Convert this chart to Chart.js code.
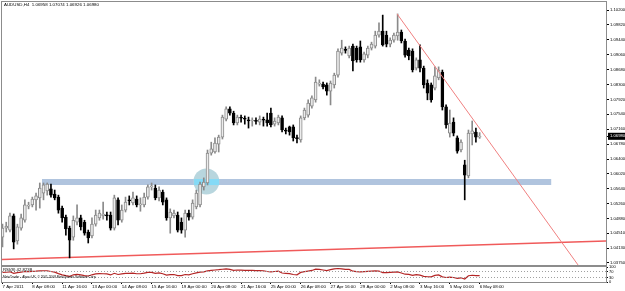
<!DOCTYPE html>
<html>
<head>
<meta charset="utf-8">
<script src="https://cdn.jsdelivr.net/npm/chart.js@4.4.0/dist/chart.umd.min.js"></script>
<style>
  html, body { margin: 0; padding: 0; background: #fff; }
  #wrap { position: relative; width: 625px; height: 291px; overflow: hidden; }
  #main { position: absolute; left: 0; top: 0; }
  #rsi { position: absolute; left: 0; top: 265px; }
</style>
</head>
<body>
<div id="wrap">
  <canvas id="main" width="625" height="266"></canvas>
  <canvas id="rsi" width="625" height="26"></canvas>
</div>
<script>
// AUDUSD H4, bar 0 = 7 Apr 2011 00:00, last bar = 6 May 08:00
const opens = [
  1.0441, 1.0464, 1.0459, 1.0495, 1.0431, 1.0464, 1.0484, 1.0520, 1.0523, 1.0536,
  1.0541, 1.0553, 1.0559, 1.0564, 1.0551, 1.0543, 1.0515, 1.0492, 1.0464, 1.0441,
  1.0479, 1.0490, 1.0479, 1.0454, 1.0444, 1.0474, 1.0490, 1.0495, 1.0497, 1.0497,
  1.0464, 1.0536, 1.0484, 1.0510, 1.0536, 1.0528, 1.0538, 1.0523, 1.0523, 1.0543,
  1.0569, 1.0566, 1.0541, 1.0556, 1.0536, 1.0490, 1.0495, 1.0497, 1.0479, 1.0459,
  1.0502, 1.0492, 1.0518, 1.0523, 1.0569, 1.0579, 1.0655, 1.0658, 1.0678, 1.0696,
  1.0742, 1.0768, 1.0757, 1.0732, 1.0745, 1.0744, 1.0740, 1.0737, 1.0738, 1.0734,
  1.0741, 1.0740, 1.0757, 1.0729, 1.0732, 1.0745, 1.0714, 1.0722, 1.0722, 1.0694,
  1.0689, 1.0745, 1.0752, 1.0775, 1.0791, 1.0831, 1.0831, 1.0829, 1.0813, 1.0829,
  1.0854, 1.0910, 1.0918, 1.0903, 1.0928, 1.0923, 1.0926, 1.0893, 1.0905, 1.0923,
  1.0928, 1.0956, 1.0966, 1.0956, 1.0933, 1.0943, 1.0954, 1.0964, 1.0941, 1.0918,
  1.0915, 1.0872, 1.0893, 1.0872, 1.0834, 1.0829, 1.0821, 1.0847, 1.0862, 1.0773,
  1.0706, 1.0734, 1.0694, 1.0663, 1.0625, 1.0597, 1.0704, 1.0709, 1.06958
];
const highs = [
  1.0474, 1.0479, 1.0502, 1.0500, 1.0474, 1.0500, 1.0536, 1.0530, 1.0543, 1.0553,
  1.0579, 1.0579, 1.0579, 1.0576, 1.0561, 1.0548, 1.0520, 1.0497, 1.0469, 1.0495,
  1.0523, 1.0497, 1.0484, 1.0459, 1.0490, 1.0510, 1.0510, 1.0530, 1.0505, 1.0505,
  1.0548, 1.0541, 1.0523, 1.0543, 1.0546, 1.0556, 1.0546, 1.0541, 1.0553, 1.0574,
  1.0579, 1.0574, 1.0569, 1.0561, 1.0541, 1.0513, 1.0510, 1.0505, 1.0490, 1.0510,
  1.0510, 1.0536, 1.0561, 1.0581, 1.0592, 1.0663, 1.0683, 1.0694, 1.0701, 1.0752,
  1.0773, 1.0773, 1.0762, 1.0752, 1.0752, 1.0750, 1.0747, 1.0745, 1.0745, 1.0750,
  1.0747, 1.0757, 1.0770, 1.0745, 1.0752, 1.0750, 1.0719, 1.0724, 1.0727, 1.0701,
  1.0750, 1.0770, 1.0791, 1.0801, 1.0849, 1.0842, 1.0836, 1.0834, 1.0839, 1.0859,
  1.0921, 1.0943, 1.0926, 1.0928, 1.0933, 1.0928, 1.0941, 1.0913, 1.0928, 1.0938,
  1.0966, 1.0987, 1.1007, 1.0966, 1.0949, 1.0961, 1.1010, 1.0969, 1.0946, 1.0923,
  1.0921, 1.0898, 1.0931, 1.0877, 1.0842, 1.0834, 1.0875, 1.0875, 1.0867, 1.0778,
  1.0765, 1.0745, 1.0699, 1.0689, 1.0637, 1.0714, 1.0737, 1.0719, 1.07074
];
const lows = [
  1.0416, 1.0454, 1.0454, 1.0411, 1.0423, 1.0459, 1.0479, 1.0513, 1.0518, 1.0510,
  1.0515, 1.0536, 1.0548, 1.0543, 1.0536, 1.0502, 1.0479, 1.0446, 1.0388, 1.0433,
  1.0472, 1.0459, 1.0446, 1.0426, 1.0439, 1.0469, 1.0484, 1.0487, 1.0484, 1.0459,
  1.0459, 1.0472, 1.0479, 1.0505, 1.0523, 1.0523, 1.0518, 1.0507, 1.0518, 1.0538,
  1.0561, 1.0536, 1.0533, 1.0523, 1.0484, 1.0451, 1.0490, 1.0454, 1.0451, 1.0441,
  1.0484, 1.0487, 1.0513, 1.0518, 1.0561, 1.0574, 1.0650, 1.0655, 1.0658, 1.0691,
  1.0737, 1.0752, 1.0727, 1.0727, 1.0734, 1.0729, 1.0719, 1.0724, 1.0729, 1.0727,
  1.0724, 1.0724, 1.0722, 1.0724, 1.0727, 1.0709, 1.0704, 1.0701, 1.0686, 1.0681,
  1.0683, 1.0740, 1.0747, 1.0770, 1.0785, 1.0826, 1.0819, 1.0803, 1.0778, 1.0821,
  1.0849, 1.0905, 1.0910, 1.0898, 1.0865, 1.0887, 1.0887, 1.0887, 1.0898, 1.0918,
  1.0923, 1.0951, 1.0928, 1.0926, 1.0926, 1.0938, 1.0943, 1.0936, 1.0900, 1.0893,
  1.0862, 1.0867, 1.0862, 1.0821, 1.0791, 1.0785, 1.0816, 1.0842, 1.0765, 1.0719,
  1.0696, 1.0699, 1.0655, 1.0658, 1.0536, 1.0592, 1.0676, 1.0683, 1.06926
];
const closes = [
  1.0464, 1.0469, 1.0495, 1.0428, 1.0467, 1.0490, 1.0523, 1.0522, 1.0538, 1.0546,
  1.0566, 1.0574, 1.0576, 1.0548, 1.0541, 1.0510, 1.0490, 1.0462, 1.0433, 1.0484,
  1.0490, 1.0467, 1.0451, 1.0439, 1.0474, 1.0497, 1.0502, 1.0500, 1.0495, 1.0464,
  1.0541, 1.0484, 1.0510, 1.0530, 1.0533, 1.0541, 1.0523, 1.0525, 1.0543, 1.0569,
  1.0571, 1.0541, 1.0561, 1.0530, 1.0490, 1.0505, 1.0502, 1.0459, 1.0459, 1.0502,
  1.0492, 1.0528, 1.0553, 1.0576, 1.0581, 1.0655, 1.0666, 1.0681, 1.0696, 1.0747,
  1.0768, 1.0757, 1.0732, 1.0747, 1.0744, 1.0742, 1.0737, 1.0739, 1.0736, 1.0742,
  1.0739, 1.0732, 1.0727, 1.0737, 1.0747, 1.0714, 1.0711, 1.0709, 1.0694, 1.0692,
  1.0745, 1.0765, 1.0783, 1.0796, 1.0836, 1.0834, 1.0824, 1.0813, 1.0834, 1.0854,
  1.0915, 1.0923, 1.0917, 1.0923, 1.0890, 1.0893, 1.0893, 1.0908, 1.0923, 1.0933,
  1.0956, 1.0966, 1.0931, 1.0933, 1.0943, 1.0956, 1.0964, 1.0941, 1.0905, 1.0903,
  1.0867, 1.0893, 1.0872, 1.0829, 1.0808, 1.0791, 1.0852, 1.0867, 1.0773, 1.0727,
  1.0732, 1.0706, 1.0660, 1.0683, 1.0599, 1.0706, 1.0712, 1.0696, 1.06980
];
const rsiValues = [
  64, 65, 68, 58, 63, 66, 70, 69, 71, 72,
  74, 75, 75, 70, 66, 56, 48, 42, 37, 48,
  51, 47, 43, 40, 48, 54, 56, 55, 54, 47,
  58, 50, 54, 57, 57, 59, 55, 55, 59, 64,
  64, 57, 61, 55, 46, 49, 50, 43, 43, 50,
  48, 55, 61, 66, 68, 74, 77, 80, 82, 85,
  87, 84, 78, 80, 79, 78, 77, 77, 76, 76,
  75, 70, 68, 70, 72, 60, 58, 56, 50, 48,
  64, 69, 73, 77, 86, 84, 80, 76, 82, 88,
  90, 88, 84, 84, 72, 69, 67, 69, 71, 73,
  74, 73, 63, 62, 64, 66, 67, 60, 52, 51,
  44, 49, 46, 38, 35, 34, 44, 47, 34, 30,
  33, 30, 24, 28, 20, 42, 45, 42, 42.82
];

const timeLabelBars = [0, 8, 16, 24, 32, 40, 48, 56, 64, 72, 80, 88, 96, 104, 112, 120, 128];
const timeLabels = ['7 Apr 2011', '8 Apr 08:00', '11 Apr 16:00', '13 Apr 00:00', '14 Apr 08:00',
  '15 Apr 16:00', '19 Apr 00:00', '20 Apr 08:00', '21 Apr 16:00', '25 Apr 00:00', '26 Apr 08:00',
  '27 Apr 16:00', '29 Apr 00:00', '2 May 08:00', '3 May 16:00', '5 May 00:00', '6 May 08:00'];
const priceTickLabels = ['1.10200', '1.09820', '1.09440', '1.09060', '1.08680', '1.08300',
  '1.07920', '1.07540', '1.07160', '1.06780', '1.06400', '1.06020', '1.05640', '1.05260',
  '1.04880', '1.04510', '1.04130', '1.03750'];
const currentPrice = 1.06980;
const currentPriceLabel = '1.06980';
const rsiTickValues = [100, 70, 30, 0];
const rsiTickLabels = ['100', '70', '30', '0'];
const rsiLevels = [70, 30];

// objects drawn on the chart, as (bar, price)
const supportLine = [{x: -0.2, y: 1.03838}, {x: 162, y: 1.04310}];
const resistanceLine = [{x: 105.85, y: 1.1010}, {x: 154.4, y: 1.0370}];
const zoneBand = [{x: 10.6, y: 1.05814}, {x: 147.2, y: 1.05814}];
const zoneBreak = [{x: 51.4, y: 1.05814}, {x: 58.1, y: 1.05814}];
const breakCircle = [{x: 54.7, y: 1.05827}];

const xMin = -0.134, xMax = 161.9;
const bars = opens.map((o, i) => i);
const bull = opens.map((o, i) => closes[i] >= o);

// window frame like the terminal draws
const frame = {
  id: 'frame',
  afterDraw(chart) {
    const a = chart.chartArea, ctx = chart.ctx;
    ctx.save();
    ctx.strokeStyle = '#8c8c8c';
    ctx.lineWidth = 1;
    ctx.strokeRect(a.left - 0.5, a.top - 0.5, a.right - a.left + 1, a.bottom - a.top + 1);
    ctx.restore();
  }
};

const overlayText = {
  id: 'overlayText',
  afterDraw(chart, args, opts) {
    const ctx = chart.ctx;
    ctx.save();
    ctx.fillStyle = '#000';
    ctx.textBaseline = 'top';
    (opts.items || []).forEach(t => {
      ctx.font = t.size + 'px "Liberation Sans", Arial, sans-serif';
      ctx.fillText(t.text, t.x, t.y);
    });
    ctx.restore();
  }
};

new Chart(document.getElementById('main'), {
  type: 'bar',
  data: {
    datasets: [
      { type: 'line', data: zoneBand, borderColor: '#b0c4de', borderWidth: 6, borderCapStyle: 'butt', pointRadius: 0, order: 10 },
      { type: 'bubble', data: breakCircle, radius: 13, backgroundColor: '#b8d6de', borderWidth: 0, order: 9 },
      { type: 'line', data: zoneBreak, borderColor: '#84daf6', borderWidth: 6, borderCapStyle: 'butt', pointRadius: 0, order: 8 },
      { type: 'line', data: supportLine, borderColor: '#f05a5a', borderWidth: 1.4, pointRadius: 0, clip: 0, order: 7 },
      {
        data: bars.map(i => ({x: i, y: [lows[i], highs[i]]})),
        backgroundColor: bull.map(b => b ? '#8a8a8a' : '#000'),
        barThickness: 1, grouped: false, order: 3
      },
      {
        data: bars.map(i => ({x: i, y: [opens[i], closes[i]]})),
        backgroundColor: bull.map(b => b ? '#ececec' : '#000'),
        borderColor: bull.map(b => b ? '#8a8a8a' : '#000'),
        borderWidth: 1, borderSkipped: false,
        barThickness: 3, minBarLength: 1, grouped: false, order: 2
      },
      { type: 'line', data: resistanceLine, borderColor: '#f08080', borderWidth: 1, pointRadius: 0, clip: 0, order: 1 }
    ]
  },
  options: {
    responsive: false,
    animation: false,
    events: [],
    layout: { autoPadding: false, padding: { top: 2, left: 2, right: 0, bottom: 1 } },
    plugins: {
      legend: { display: false },
      tooltip: { enabled: false },
      overlayText: { items: [{ text: 'AUDUSD,H4  1.06958 1.07074 1.06926 1.06980', x: 4, y: 3, size: 4.4 }] }
    },
    scales: {
      x: { type: 'linear', min: xMin, max: xMax, offset: false, display: false },
      y: {
        type: 'linear', position: 'right', min: 1.03699, max: 1.10404,
        afterBuildTicks: s => {
          s.ticks = priceTickLabels.map(t => ({value: parseFloat(t)})).concat([{value: currentPrice}]);
        },
        afterFit: s => { s.width = 19; s.paddingTop = 0; s.paddingBottom = 0; },
        ticks: {
          autoSkip: false,
          padding: 1,
          font: { family: 'Liberation Sans', size: 4.2 },
          color: ctx => ctx.index === priceTickLabels.length ? '#fff' : '#000',
          showLabelBackdrop: ctx => ctx.index === priceTickLabels.length,
          backdropColor: '#000',
          backdropPadding: { top: 1, bottom: 1, left: 2, right: 4 },
          callback: (v, i) => i < priceTickLabels.length ? priceTickLabels[i] : currentPriceLabel
        },
        grid: { drawOnChartArea: false, tickLength: 3, color: '#000' },
        border: { display: true, color: '#8c8c8c' }
      }
    }
  },
  plugins: [frame, overlayText]
});

new Chart(document.getElementById('rsi'), {
  type: 'line',
  data: {
    datasets: [
      { data: [{x: xMin, y: rsiLevels[0]}, {x: xMax, y: rsiLevels[0]}], borderColor: '#a0a0a0', borderWidth: 1, borderDash: [1, 2], pointRadius: 0 },
      { data: [{x: xMin, y: rsiLevels[1]}, {x: xMax, y: rsiLevels[1]}], borderColor: '#a0a0a0', borderWidth: 1, borderDash: [1, 2], pointRadius: 0 },
      { data: rsiValues.map((v, i) => ({x: i, y: v})), borderColor: '#b42626', borderWidth: 1.2, pointRadius: 0, tension: 0 }
    ]
  },
  options: {
    responsive: false,
    animation: false,
    events: [],
    layout: { autoPadding: false, padding: { top: 2, left: 2, right: 0, bottom: 0 } },
    plugins: {
      legend: { display: false },
      tooltip: { enabled: false },
      overlayText: { items: [
        { text: 'RSI(8) 42.8238', x: 3, y: 3, size: 4.3 },
        { text: 'MetaTrader - Alpari UK, \u00a9 2001-2008 MetaQuotes Software Corp.', x: 3, y: 11, size: 3.2 }
      ] }
    },
    scales: {
      x: {
        type: 'linear', min: xMin, max: xMax, offset: false,
        afterBuildTicks: s => { s.ticks = timeLabelBars.map(v => ({value: v})); },
        afterFit: s => { s.height = 9; s.paddingLeft = 0; s.paddingRight = 0; },
        ticks: {
          autoSkip: false, maxRotation: 0, align: 'start', padding: 0,
          font: { family: 'Liberation Sans', size: 4.4 }, color: '#000',
          callback: (v, i) => timeLabels[i]
        },
        grid: { drawOnChartArea: false, tickLength: 2, color: '#000' },
        border: { display: false }
      },
      y: {
        type: 'linear', position: 'right', min: 0, max: 100,
        afterBuildTicks: s => { s.ticks = rsiTickValues.map(v => ({value: v})); },
        afterFit: s => { s.width = 19; s.paddingTop = 0; s.paddingBottom = 0; },
        ticks: {
          autoSkip: false, padding: 1,
          font: { family: 'Liberation Sans', size: 4 }, color: '#000',
          callback: (v, i) => rsiTickLabels[i]
        },
        grid: { drawOnChartArea: false, tickLength: 2, color: '#000' },
        border: { display: true, color: '#8c8c8c' }
      }
    }
  },
  plugins: [frame, overlayText]
});
</script>
</body>
</html>
